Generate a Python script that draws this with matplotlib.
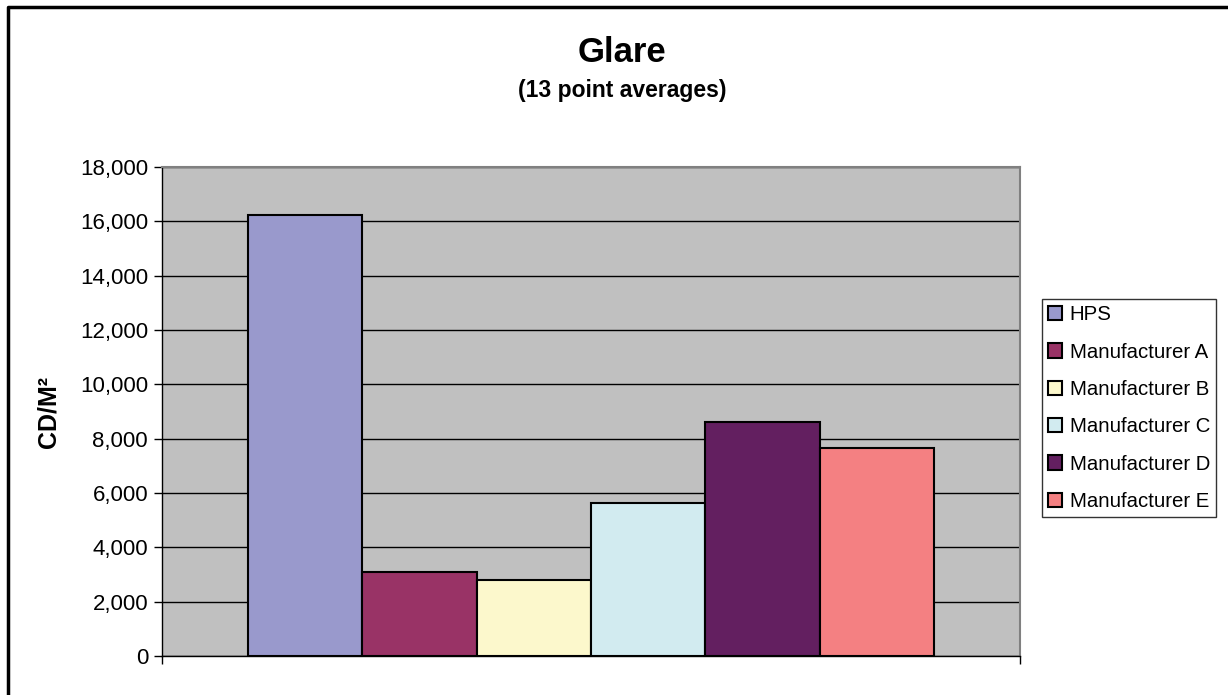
import numpy as np
import matplotlib
matplotlib.use("Agg")
import matplotlib.pyplot as plt
from matplotlib.lines import Line2D
from matplotlib.ticker import FuncFormatter

plt.rcParams['font.family'] = ['Liberation Sans', 'DejaVu Sans']

# data
series = ["HPS", "Manufacturer A", "Manufacturer B", "Manufacturer C",
          "Manufacturer D", "Manufacturer E"]
values = [16250, 3100, 2800, 5650, 8600, 7650]
colors = ["#9999CC", "#993366", "#FCF8CC", "#D2EBF0", "#631F60", "#F48082"]
y_ticks = list(range(0, 18001, 2000))

W, H = 1228, 695
fig = plt.figure(figsize=(W / 100, H / 100), dpi=100)
fig.patch.set_facecolor("white")

# plot area in pixels
left, right, top, bottom = 162, 1020, 167, 656
ax = fig.add_axes([left / W, 1 - bottom / H, (right - left) / W, (bottom - top) / H])
ax.set_facecolor("#C0C0C0")

n = len(series)
group = 0.8
width = group / n
starts = 0.1 + np.arange(n) * width
for x0, v, c, name in zip(starts, values, colors, series):
    ax.bar(x0, v, width=width, align="edge", color=c, edgecolor="black",
           linewidth=1.5, label=name, zorder=3)

ax.set_xlim(0, 1)
ax.set_ylim(0, 18000)
ax.set_yticks(y_ticks)
ax.yaxis.set_major_formatter(FuncFormatter(lambda v, p: f"{int(v):,}"))
ax.grid(axis="y", color="black", linewidth=1, zorder=1)
ax.set_axisbelow(True)

ax.set_xticks([0, 1])
ax.set_xticklabels([])
ax.tick_params(axis="x", direction="out", length=6, width=1, color="black")
ax.tick_params(axis="y", direction="out", length=6, width=1, color="black",
               labelsize=16, pad=4)

for s in ["top", "right"]:
    ax.spines[s].set_color("#808080")
    ax.spines[s].set_linewidth(1.5)
for s in ["left", "bottom"]:
    ax.spines[s].set_color("black")
    ax.spines[s].set_linewidth(1)

ax.set_ylabel("CD/M²", fontsize=18, fontweight="bold", labelpad=14)

# titles
fig.text(622 / W, 1 - 52 / H, "Glare", ha="center", va="center",
         fontsize=25, fontweight="bold")
fig.text(622 / W, 1 - 90 / H, "(13 point averages)", ha="center", va="center",
         fontsize=16.5, fontweight="bold")

# legend
leg = fig.legend(loc="upper left", bbox_to_anchor=(1042 / W, 1 - 299 / H),
                 fontsize=14.7, frameon=True, fancybox=False, borderpad=0.3,
                 handlelength=0.7, handleheight=0.7, handletextpad=0.35,
                 labelspacing=0.9, borderaxespad=0)
leg.get_frame().set_edgecolor("black")
leg.get_frame().set_linewidth(1)

# chart frame (only left and top visible)
fig.add_artist(Line2D([8 / W, 8 / W, 1], [0, 1 - 7 / H, 1 - 7 / H],
                      transform=fig.transFigure, color="black", linewidth=2.5))

fig.savefig("out.png", dpi=100)
